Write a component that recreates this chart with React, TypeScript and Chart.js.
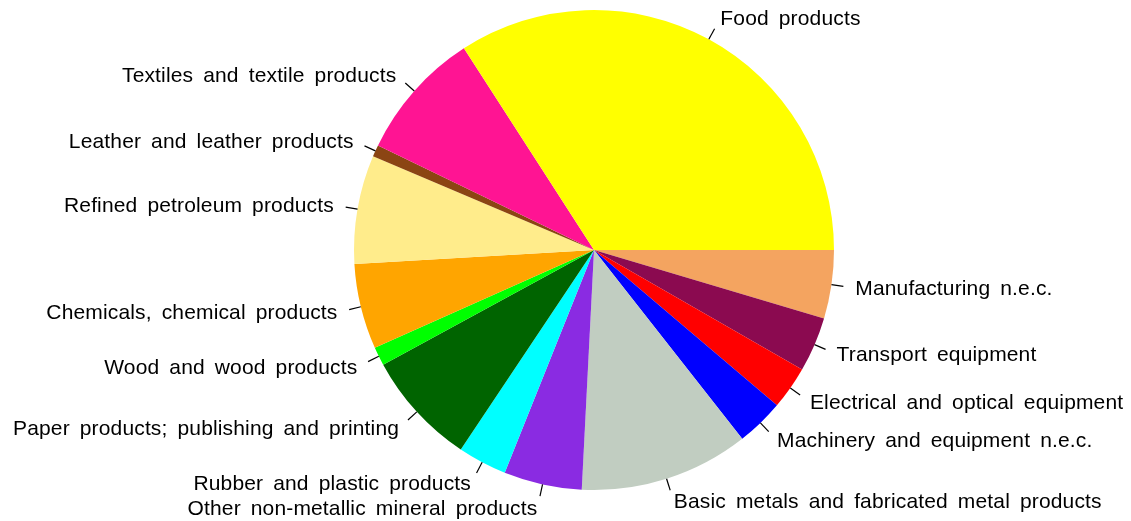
import React, { useEffect, useRef } from "react";
import { Chart, registerables } from "chart.js";

Chart.register(...registerables);

// Slices in counter-clockwise order starting at 3 o'clock (as drawn in the reference)
const categories = [
  "Food products",
  "Textiles and textile products",
  "Leather and leather products",
  "Refined petroleum products",
  "Chemicals, chemical products",
  "Wood and wood products",
  "Paper products; publishing and printing",
  "Rubber and plastic products",
  "Other non-metallic mineral products",
  "Basic metals and fabricated metal products",
  "Machinery and equipment n.e.c.",
  "Electrical and optical equipment",
  "Transport equipment",
  "Manufacturing n.e.c.",
];

const shares = [34.1, 8.7, 0.8, 7.3, 5.75, 1.25, 7.7, 3.3, 5.25, 11.4, 3.2, 2.9, 3.7, 4.6];

const colors = [
  "#FFFF00",
  "#FF1493",
  "#8B4513",
  "#FFEC8B",
  "#FFA500",
  "#00FF00",
  "#006400",
  "#00FFFF",
  "#8A2BE2",
  "#C1CDC1",
  "#0000FF",
  "#FF0000",
  "#8B0A50",
  "#F4A460",
];

const labelPlugin = {
  id: "rPieLabels",
  afterDraw(chart: any) {
    const meta = chart.getDatasetMeta(0);
    const ctx = chart.ctx;
    const labels = chart.data.labels as string[];
    ctx.save();
    ctx.font = "21px 'Liberation Sans', Arial, sans-serif";
    try {
      (ctx as any).wordSpacing = "4px";
      (ctx as any).letterSpacing = "0.15px";
    } catch (e) {}
    ctx.fillStyle = "#000";
    ctx.strokeStyle = "#000";
    ctx.lineWidth = 1.2;
    ctx.textBaseline = "middle";
    meta.data.forEach((arc: any, i: number) => {
      const { x, y, startAngle, endAngle, outerRadius } = arc.getProps(
        ["x", "y", "startAngle", "endAngle", "outerRadius"],
        true
      );
      const mid = (startAngle + endAngle) / 2;
      const c = Math.cos(mid);
      const s = Math.sin(mid);
      ctx.beginPath();
      ctx.moveTo(x + c * outerRadius, y + s * outerRadius);
      ctx.lineTo(x + c * outerRadius * 1.05, y + s * outerRadius * 1.05);
      ctx.stroke();
      ctx.textAlign = c > 0 ? "left" : "right";
      ctx.fillText(labels[i], x + c * outerRadius * 1.1, y + s * outerRadius * 1.1 + 1);
    });
    ctx.restore();
  },
};

export default function App() {
  const ref = useRef<HTMLCanvasElement>(null);
  useEffect(() => {
    document.body.style.margin = "0";
    const order = categories.map((_, i) => i).reverse();
    const chart = new Chart(ref.current!, {
      type: "pie",
      data: {
        labels: order.map((i) => categories[i]),
        datasets: [
          {
            data: order.map((i) => shares[i]),
            backgroundColor: order.map((i) => colors[i]),
            borderWidth: 0,
          },
        ],
      },
      options: {
        responsive: false,
        animation: false,
        rotation: 90,
        layout: { padding: { left: 354, right: 297, top: 10, bottom: 31 } },
        plugins: {
          legend: { display: false },
          tooltip: { enabled: false },
        },
      },
      plugins: [labelPlugin],
    });
    return () => chart.destroy();
  }, []);
  return (
    <div style={{ width: 1131, height: 521, background: "#fff" }}>
      <canvas ref={ref} width={1131} height={521} />
    </div>
  );
}
